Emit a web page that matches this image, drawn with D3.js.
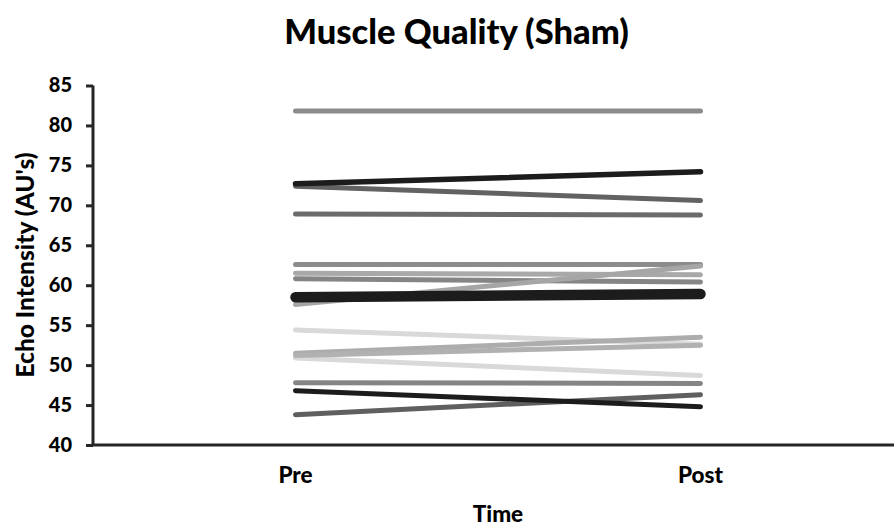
<!DOCTYPE html>
<html>
<head>
<meta charset="utf-8">
<script src="https://cdn.jsdelivr.net/npm/d3@7"></script>
<style>
  html, body { margin: 0; padding: 0; background: #fff; }
  svg { display: block; }
  text { font-family: Lato, "Open Sans", "DejaVu Sans", sans-serif; font-weight: 900; fill: #000; }
</style>
</head>
<body>
<svg id="chart" width="894" height="527"></svg>
<script>
// Time points on the x axis
const timePoints = ["Pre", "Post"];

// Echo intensity per participant (AU's), pre and post
const preValues  = [81.8, 72.4, 68.9, 62.6, 61.5, 60.8, 54.4, 50.9, 51.5, 51.2, 57.6, 47.8, 43.8, 46.8, 72.7, 58.5];
const postValues = [81.8, 70.6, 68.8, 62.6, 61.3, 60.4, 52.6, 48.7, 53.5, 52.5, 62.4, 47.7, 46.3, 44.8, 74.2, 58.9];

// Grey shade per participant line
const lineShades = ["#8c8c8c", "#626262", "#6b6b6b", "#8c8c8c", "#a9a9a9", "#858585", "#d9d9d9", "#d9d9d9",
                    "#adadad", "#b1b1b1", "#a6a6a6", "#858585", "#5f5f5f", "#1c1c1c", "#1c1c1c", "#1c1c1c"];

// y-axis tick values
const yTicks = [40, 45, 50, 55, 60, 65, 70, 75, 80, 85];

const svg = d3.select("#chart");

const x = d3.scalePoint().domain(timePoints).range([93, 903]).padding(0.5);
const y = d3.scaleLinear().domain([40, 85]).range([445, 85.5]);

// Participant lines
const rows = preValues.map((v, i) => ({ pre: v, post: postValues[i], shade: lineShades[i], idx: i }));
const widthFor = i => (i === preValues.length - 1 ? 10.5 : (i === 14 ? 5.5 : 5));

svg.append("g").selectAll("line")
  .data(rows)
  .join("line")
  .attr("x1", x("Pre"))
  .attr("x2", x("Post"))
  .attr("y1", d => y(d.pre))
  .attr("y2", d => y(d.post))
  .attr("stroke", d => d.shade)
  .attr("stroke-width", d => widthFor(d.idx))
  .attr("stroke-linecap", "round");

// y axis
const yAxis = svg.append("g")
  .attr("transform", "translate(93,0)")
  .call(d3.axisLeft(y).tickValues(yTicks).tickSize(7).tickPadding(14));
yAxis.select(".domain").attr("stroke", "#262626").attr("stroke-width", 3).attr("d", `M0,${y(85)}V${y(40)}`);
yAxis.selectAll(".tick line").attr("stroke", "#262626").attr("stroke-width", 3);
yAxis.selectAll(".tick text")
  .style("font-family", "Lato, 'Open Sans', sans-serif")
  .style("font-weight", "900")
  .style("font-size", "20px")
  .attr("fill", "#000");

// x axis line (runs to the right edge)
svg.append("line")
  .attr("x1", 91.5).attr("x2", 894)
  .attr("y1", y(40)).attr("y2", y(40))
  .attr("stroke", "#262626").attr("stroke-width", 3);

// category labels
svg.append("g").selectAll("text")
  .data(timePoints)
  .join("text")
  .attr("x", d => x(d))
  .attr("y", 483)
  .attr("text-anchor", "middle")
  .style("font-size", "22.5px")
  .text(d => d);

// axis titles
svg.append("text")
  .attr("x", 498).attr("y", 521.5)
  .attr("text-anchor", "middle")
  .style("font-size", "22.5px")
  .text("Time");

svg.append("text")
  .attr("transform", "translate(34,265) rotate(-90)")
  .attr("text-anchor", "middle")
  .style("font-size", "24.5px")
  .text("Echo Intensity (AU's)");

// chart title
svg.append("text")
  .attr("x", 456.5).attr("y", 43.5)
  .attr("text-anchor", "middle")
  .style("font-size", "34.5px")
  .text("Muscle Quality (Sham)");
</script>
</body>
</html>
